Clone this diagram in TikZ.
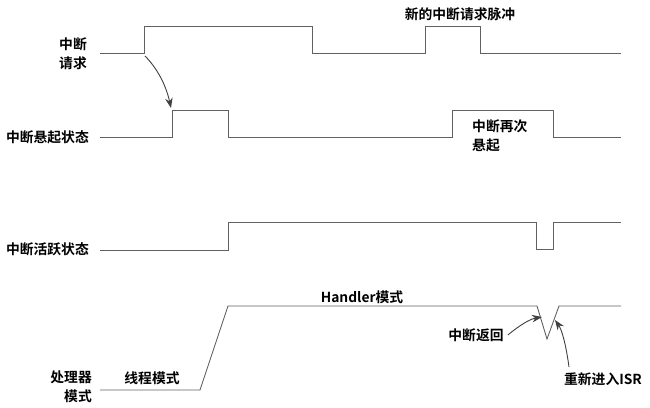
\documentclass[tikz,border=0pt]{standalone}
\usepackage{fontspec}
\setmainfont{Noto Sans CJK SC}[BoldFont={* Bold}]
\usetikzlibrary{arrows.meta}
\begin{document}
\begin{tikzpicture}[x=1pt,y=-1pt,
  wave/.style={draw=black!62,line width=0.9pt},
  lbl/.style={font=\bfseries\fontsize{13.8}{19}\selectfont,inner sep=0pt,text=black},
  callout/.style={draw=black!75,line width=0.9pt,-{Stealth[length=10pt,width=7.5pt]}}]
\useasboundingbox (0,0) rectangle (650,407);
% waveforms
\draw[wave] (100,53) -- (144,53) -- (144,26) -- (312,26) -- (312,53) -- (425,53) -- (425,26) -- (480,26) -- (480,53) -- (621,53);
\draw[wave] (100,137) -- (172,137) -- (172,110) -- (228,110) -- (228,137) -- (452,137) -- (452,110) -- (553,110) -- (553,137) -- (621,137);
\draw[wave] (100,250) -- (228,250) -- (228,222) -- (536,222) -- (536,249) -- (553,249) -- (553,222) -- (621,222);
\draw[wave] (100,390) -- (200,390) -- (228,306) -- (537,306) -- (547,339) -- (559,306) -- (621,306);
% labels
\node[lbl,align=right,anchor=east] (req) at (87,54) {中断\\请求};
\node[lbl,anchor=east] (pend) at (89,137) {中断悬起状态};
\node[lbl,anchor=east] (act) at (89,249) {中断活跃状态};
\node[lbl,align=right,anchor=east] (proc) at (92,387) {处理器\\模式};
\node[lbl] (thread) at (152,378) {线程模式};
\node[lbl] (handler) at (362,297) {Handler模式};
\node[lbl] (newpulse) at (460,14) {新的中断请求脉冲};
\node[lbl,align=left,anchor=west] (again) at (472,136) {中断再次\\悬起};
\node[lbl] (ret) at (476,335) {中断返回};
\node[lbl] (reenter) at (603,379) {重新进入ISR};
% callouts
\coordinate (reqedge) at (145,56);
\coordinate (pendtip) at (171,108);
\coordinate (rettip) at (542,317);
\coordinate (isrtip) at (555,320);
\coordinate (isrfrom) at (569,367);
\draw[callout] (reqedge) .. controls (157,68) and (166,85) .. (pendtip);
\draw[callout] (ret.east) ++(4,0) .. controls (520,325) and (530,319) .. (rettip);
\draw[callout] (isrfrom) .. controls (566,345) and (562,330) .. (isrtip);
\end{tikzpicture}
\end{document}
